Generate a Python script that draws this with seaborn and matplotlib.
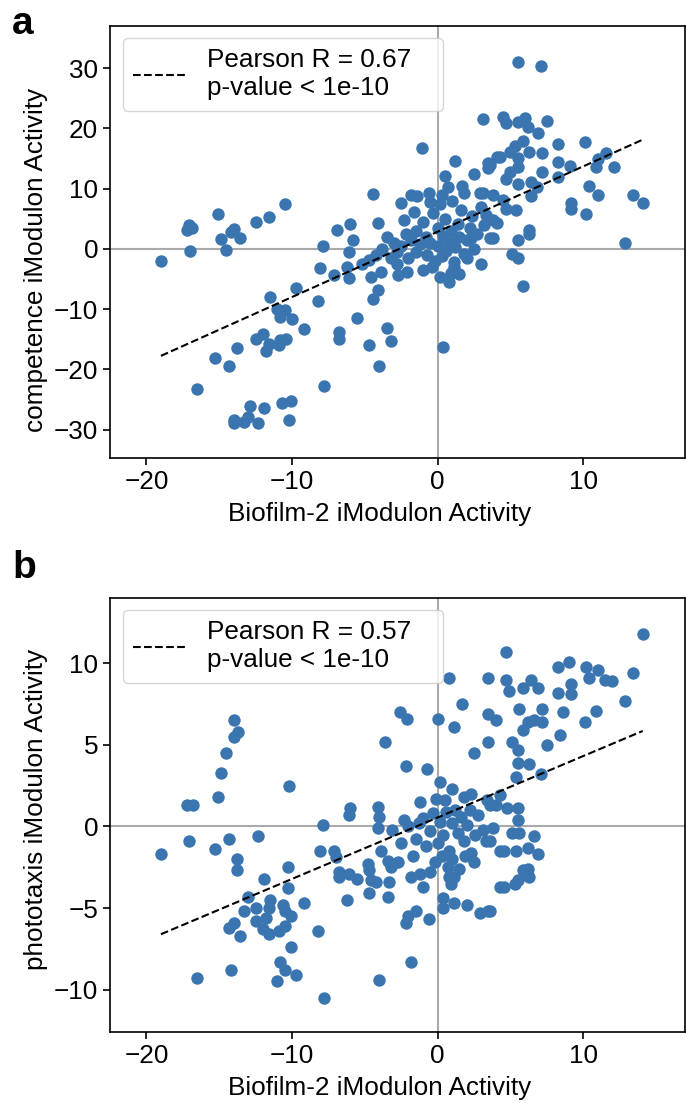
import numpy as np
import pandas as pd
import matplotlib
matplotlib.use("Agg")
import matplotlib.pyplot as plt
import seaborn as sns

# Biofilm-2 vs competence iModulon activities (panel a)
biofilm_a = [
    -10.5, -15.1, -11.6, -12.5, -17.1, -17.2, -16.9, -14.0, -14.2, -13.6, -14.9, -14.5, -17.0,
    -19.0, -9.7, -11.5, -11.0, -10.5, -10.8, -10.0, -9.2, -12.5, -12.0, -11.6, -11.8, -10.8,
    -10.4, -10.9, -13.8, -15.3, -14.3, -16.5, -12.9, -11.9, -10.7, -10.1, -14.0, -14.0, -13.3,
    -13.0, -12.3, -10.2,
    -7.9, -6.1, -8.1, -6.2, -7.1, -6.1, -4.7, -4.6, -3.9, -2.7, -2.1, -1.0, -4.1, -4.4, -8.2,
    -5.5, -6.8, -6.8, -3.5, -3.2, -4.7, -4.0, -7.8, 0.4, 0.8, 0.2, 1.1, 2.0,
    -4.4, -1.8, -1.4, -2.5, -0.6, 0.7, 1.8, 2.9, -4.1, -6.0, -6.9, -1.1, 1.2, 0.5, 2.5, 3.5,
    3.5, 4.1, 3.1,
    -3.5, -3.0, -2.8, -2.5, -2.2, -2.0, -1.8, -1.5, -1.5, -1.2, -1.0, -0.8, -0.7, -0.5, -0.3,
    -0.2, 0.0, 0.0, 0.2, 0.3, 0.4, 0.5, 0.6, 0.8, 0.9, 1.0, 1.1, 1.2, 1.4, 1.5, 1.6, 1.8,
    2.0, 2.2, 2.4, 2.5, 2.7, 3.0, 3.0, 3.2, -2.8, -3.2, -1.6, -0.5, 1.7, 0.3, -2.3, -3.8,
    -4.2, -5.2, -5.8, -0.4, 0.9, 1.5,
    5.5, 7.1, 4.5, 4.7, 5.5, 6.0, 6.2, 7.5, 6.9, 8.3, 10.1, 5.9, 5.3, 5.0, 4.3, 6.3, 7.2,
    5.5, 3.6, 5.5, 5.0, 4.7, 7.2, 8.3, 9.1, 8.3, 11.0, 11.6, 10.9, 12.1, 6.4, 6.8, 5.5,
    6.4, 10.4, 11.0, 13.4, 14.1, 9.2, 9.2, 10.2, 3.8, 4.5, 4.7, 5.4, 3.8, 4.1, 6.3, 6.3,
    5.5, 3.6, 12.9, 5.1, 5.5, 5.9, 3.3, 3.8, 2.3, 3.1,
]
competence = [
    7.5, 5.8, 5.3, 4.5, 4.0, 3.2, 3.5, 3.3, 2.8, 1.8, 1.6, -0.2, -0.3,
    -2.0, -6.5, -8.0, -10.0, -10.1, -11.3, -11.6, -13.3, -14.9, -14.1, -15.8, -16.9, -15.1,
    -14.9, -15.9, -16.4, -18.1, -19.4, -23.2, -26.0, -26.4, -25.5, -25.2, -28.4, -28.9, -28.7,
    -27.9, -28.9, -28.4,
    0.5, -0.5, -3.1, -3.0, -4.3, -4.8, -1.8, -4.6, -3.8, -4.3, -3.8, -3.5, -6.8, -8.3, -8.6,
    -11.4, -13.8, -14.9, -13.1, -15.3, -15.9, -19.4, -22.7, -16.2, -5.5, -4.6, -3.0, -1.5,
    9.1, 9.0, 8.8, 7.6, 9.3, 10.3, 9.3, 9.3, 4.3, 4.1, 3.2, 16.7, 14.6, 12.1, 12.4, 14.3,
    13.5, 15.3, 21.6,
    2.0, 1.0, -0.5, 0.5, 2.5, -1.5, 1.5, 3.0, -0.5, 0.8, 4.5, 2.0, -1.0, 1.0, 6.0,
    -2.0, 3.5, 0.5, 7.5, -1.2, 2.2, 5.0, -0.3, 1.2, 3.0, 8.0, -2.2, 0.3, 4.2, 2.0, 6.5, -0.8,
    1.5, 3.5, 5.5, 0.0, 2.5, 7.0, -2.5, 4.0, -2.5, -1.5, 6.2, 7.8, 10.5, 9.0, 4.8, 0.0,
    -1.0, -2.5, 1.5, -3.0, -4.0, -4.2,
    31.0, 30.3, 21.9, 20.9, 21.1, 21.7, 20.2, 21.2, 19.2, 17.4, 17.7, 17.9, 17.1, 16.1, 15.3,
    16.1, 15.9, 15.1, 13.9, 13.6, 12.8, 11.6, 12.8, 14.4, 13.8, 12.0, 14.9, 15.9, 13.6, 13.6,
    11.1, 10.3, 10.8, 8.8, 10.4, 9.0, 9.0, 7.6, 7.6, 6.6, 5.8, 9.0, 8.1, 6.6, 6.5, 4.8, 4.3,
    3.2, 2.5, 1.5, 1.8, 1.0, -0.8, -1.5, -6.1, 5.6, 1.8, 1.8, 9.3,
]

# Biofilm-2 vs phototaxis iModulon activities (panel b)
biofilm_b = [
    -14.0, -13.7, -14.0, -14.5, -14.9, -15.1, -10.2, -17.2, -16.8,
    -19.0, -17.1, -15.3, -14.3, -12.3, -13.8, -13.8, -10.3, -11.9, -10.3, -9.2, -13.0, -13.3,
    -12.5, -11.5, -11.6, -10.6, -10.5, -10.1, -14.0, -14.3, -13.6, -12.5, -11.8, -12.0, -11.6,
    -10.9, -10.5, -10.1, -10.8, -10.5, -11.0, -9.7, -14.2, -16.5,
    0.8, 3.5, 1.7, -2.6, -2.1, 0.0, 1.1, 3.5, 4.0, -3.6, 3.5, 2.5, -2.2, -0.7, 0.2, 1.0, 2.3,
    1.8, -6.0, -4.1, -1.2, -0.1, 0.5, 3.4, 3.6,
    -7.9, -6.1, -8.1, -7.1, -7.0, -6.8, -6.8, -6.1, -5.5, -4.8, -4.7, -4.6, -4.2, -4.7, -6.2,
    -8.2, -3.9, -3.4, -3.2, -3.3, -3.4, -2.7, -1.8, -1.2, -0.5, -1.0, -1.5, -2.0, -2.2, -0.6,
    -1.8, -4.0, -7.8, -4.1, -4.0, -3.1, -2.3, 0.8, 1.1, 0.9, 0.4, 0.4, 1.1, 2.0, 2.9, 3.5,
    1.0, 2.3, 1.8, 3.1, 3.8, 3.3, 4.3, 4.3,
    -2.0, -1.5, -1.0, -0.8, -0.5, -0.3, 0.0, 0.2, 0.4, 0.6, 0.8, 1.0, 1.2, 1.4, 1.6, 2.0,
    2.2, 2.6, 2.8, -1.7, -0.2, 0.7, 1.5, 2.5, -2.5, -1.3, 0.3, 1.9,
    14.1, 4.7, 9.0, 8.3, 10.2, 11.0, 10.4, 11.5, 12.0, 13.4, 12.9, 4.7, 6.4, 5.9, 6.9, 4.9,
    8.3, 9.2, 9.2, 10.9, 10.1, 8.6, 7.2, 5.6, 6.2, 6.6, 7.2, 5.9, 8.4, 7.5, 5.1, 5.5, 5.5,
    6.3, 5.4, 7.1, 4.3, 4.0, 4.8, 5.5, 5.5, 5.1, 5.6, 6.6, 3.6, 4.6, 5.4, 6.2, 6.9, 6.2,
    5.9, 6.3, 5.5, 5.3, 4.6, 3.6,
]
phototaxis = [
    6.5, 5.8, 5.5, 4.5, 3.3, 1.8, 2.5, 1.3, 1.3,
    -1.7, -0.9, -1.4, -0.8, -0.6, -2.0, -2.7, -2.5, -3.2, -3.8, -4.7, -4.3, -5.2,
    -5.0, -4.5, -5.0, -4.8, -5.2, -5.5, -5.9, -6.2, -6.7, -5.8, -5.6, -6.3, -6.6,
    -6.4, -6.1, -7.4, -8.3, -8.8, -9.5, -9.1, -8.8, -9.3,
    9.1, 9.1, 7.5, 7.0, 6.6, 6.6, 6.1, 6.9, 6.5, 5.2, 5.2, 4.5, 3.7, 3.5, 2.7, 2.3, 2.0,
    1.8, 1.1, 1.2, 1.5, 1.7, 1.6, 1.6, 1.3,
    0.1, 0.7, -1.5, -1.5, -1.9, -2.8, -3.1, -2.9, -3.2, -2.3, -2.7, -3.3, -3.4, -4.1, -4.5,
    -6.4, -1.5, -2.1, -2.5, -3.4, -4.3, -2.2, -3.1, -2.9, -2.8, -3.7, -5.2, -5.5, -5.9, -5.7,
    -8.3, -9.4, -10.5, -0.1, 0.6, -0.2, 0.4, -3.1, -3.1, -3.5, -4.4, -5.0, -4.7, -4.8, -5.3,
    -5.2, -2.0, -1.6, -0.9, -0.2, -0.1, -0.9, -1.5, -3.7,
    0.0, -0.8, 0.5, -1.2, -0.3, 0.8, -1.0, 0.3, -0.5, 0.9, -1.5, 0.2, 1.0, -0.4, 0.6, 0.1,
    1.0, -0.5, 0.7, -1.8, -2.2, -2.5, -2.6, -2.2, -1.0, 0.2, -1.8, -1.8,
    11.8, 10.7, 10.1, 9.8, 9.8, 9.6, 9.1, 9.0, 8.9, 9.4, 7.7, 9.0, 9.0, 8.5, 8.5, 8.3,
    8.2, 8.7, 8.1, 7.1, 6.4, 7.0, 7.2, 7.2, 6.4, 6.5, 6.4, 5.9, 5.6, 5.0, 5.2, 4.7, 3.9,
    3.8, 3.0, 3.2, 1.9, 1.3, 1.1, 1.1, 0.4, -0.4, -0.4, -0.6, -0.9, -1.5, -1.5, -1.3, -1.7,
    -2.6, -2.7, -3.1, -3.3, -3.5, -3.7, -5.2,
]

panels = [
    ("a", biofilm_a, competence, "competence iModulon Activity",
     "Pearson R = 0.67\np-value < 1e-10", (-34.7, 37.0), [-30, -20, -10, 0, 10, 20, 30]),
    ("b", biofilm_b, phototaxis, "phototaxis iModulon Activity",
     "Pearson R = 0.57\np-value < 1e-10", (-12.6, 14.0), [-10, -5, 0, 5, 10]),
]

sns.set_style("ticks")
plt.rcParams["font.family"] = ["Liberation Sans", "DejaVu Sans"]
for key in ["axes.edgecolor", "xtick.color", "ytick.color", "text.color",
            "axes.labelcolor", "xtick.labelcolor", "ytick.labelcolor"]:
    plt.rcParams[key] = "black"

W, H = 686, 1103
fig = plt.figure(figsize=(W / 100, H / 100), dpi=100)
boxes = [(110, 26, 685, 458), (110, 598, 685, 1032)]
letter_y = [6, 550]
ylabel_center = [260, 809]
point_color = "#3a75b0"
fs = 18.8

for (letter, xs, ys, ylabel, leg, ylim, yticks), (l, t, r, b), ly, yc in zip(
        panels, boxes, letter_y, ylabel_center):
    ax = fig.add_axes([l / W, 1 - b / H, (r - l) / W, (b - t) / H])
    df = pd.DataFrame({"x": xs, "y": ys})
    ax.axhline(0, color="#aaaaaa", lw=1.5, zorder=0)
    ax.axvline(0, color="#aaaaaa", lw=1.5, zorder=0)
    sns.scatterplot(data=df, x="x", y="y", ax=ax, color=point_color, s=80,
                    linewidth=0, zorder=2, legend=False)
    slope, icept = np.polyfit(df["x"], df["y"], 1)
    xfit = np.array([df["x"].min(), df["x"].max()])
    ax.plot(xfit, slope * xfit + icept, ls="--", color="black", lw=1.5, label=leg, zorder=3)
    ax.set_xlim(-22.5, 17.0)
    ax.set_ylim(*ylim)
    ax.set_xticks([-20, -10, 0, 10])
    ax.set_yticks(yticks)
    ax.tick_params(labelsize=fs, length=5, width=1.2)
    for sp in ax.spines.values():
        sp.set_linewidth(1.2)
    ax.set_xlabel("Biofilm-2 iModulon Activity", fontsize=fs, labelpad=6, loc="left")
    ax.xaxis.label.set_x((228 - l) / (r - l))
    ax.set_ylabel(ylabel, fontsize=fs, labelpad=4)
    ax.yaxis.label.set_y((b - yc) / (b - t))
    # legend frame spanning a fixed width at the upper left
    x0 = (123 - l) / (r - l)
    x1 = (443 - l) / (r - l)
    ax.legend(loc="upper left", fontsize=fs, handlelength=2.0, borderaxespad=0.0,
              bbox_to_anchor=(x0, 0.0, x1 - x0, 1 - 12 / (b - t)), mode="expand")
    fig.text(12 / W, 1 - ly / H, letter, fontsize=28, fontweight="bold", va="top", ha="left")

fig.savefig("out.png", dpi=100)
